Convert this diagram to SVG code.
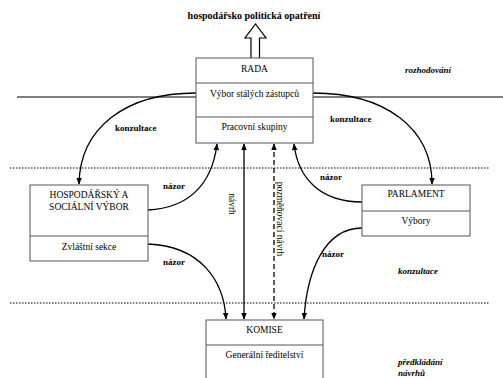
<svg xmlns="http://www.w3.org/2000/svg" width="503" height="378" viewBox="0 0 503 378">
<style>
text{font-family:"Liberation Serif","Times New Roman",serif;fill:#000}
.t{font-size:9.5px;text-anchor:middle}
.b{font-size:9px;font-weight:bold}
.i{font-size:9px;font-weight:bold;font-style:italic}
.box{fill:#fff;stroke:#555;stroke-width:1}
.div{stroke:#555;stroke-width:1}
.c{fill:none;stroke:#000;stroke-width:1.3}
.dot{stroke:#000;stroke-width:1;stroke-dasharray:1.5 1.5}
</style>
<defs>
<marker id="ah" viewBox="0 0 10 10" refX="9" refY="5" markerWidth="7" markerHeight="7" markerUnits="userSpaceOnUse" orient="auto-start-reverse">
<path d="M0,1 L10,5 L0,9 Z" fill="#000"/>
</marker>
</defs>
<rect width="503" height="378" fill="#fff"/>
<g id="layers">
<line x1="17" y1="97" x2="196" y2="97" stroke="#000" stroke-width="1.2"/>
<line x1="313" y1="97" x2="503" y2="97" stroke="#000" stroke-width="1.2"/>
<line class="dot" x1="10" y1="168" x2="489" y2="168"/>
<line class="dot" x1="10" y1="303" x2="490" y2="303"/>
<text class="i" x="405" y="73">rozhodování</text>
<text class="i" x="398" y="274">konzultace</text>
<text class="i" x="398" y="365">předkládání</text>
<text class="i" x="398" y="376">návrhů</text>
</g>
<g id="output">
<text x="254" y="19" style="font-size:10px;font-weight:bold;text-anchor:middle">hospodářsko politická opatření</text>
<path d="M251,58 L251,38 L245,38 L255.5,24 L266,38 L259.5,38 L259.5,58" fill="#fff" stroke="#000" stroke-width="1.2"/>
</g>
<g id="connectors">
<path class="c" d="M196,93 C125,93 80,128 79,184" marker-end="url(#ah)"/>
<path class="c" d="M313,93 C385,93 432,128 432,184" marker-end="url(#ah)"/>
<path class="c" d="M148,210 C188,208 212,185 217,144" marker-end="url(#ah)"/>
<path class="c" d="M362,202 C320,202 298,178 294,144" marker-end="url(#ah)"/>
<path class="c" d="M148,244 C200,246 224,280 226,319" marker-end="url(#ah)"/>
<path class="c" d="M362,228 C325,228 307,270 304,319" marker-end="url(#ah)"/>
<line class="c" x1="244" y1="144" x2="244" y2="319" marker-start="url(#ah)" marker-end="url(#ah)"/>
<line class="c" x1="274" y1="144" x2="274" y2="319" stroke-dasharray="5 3" marker-start="url(#ah)" marker-end="url(#ah)"/>
<text class="b" x="115" y="131">konzultace</text>
<text class="b" x="330" y="122">konzultace</text>
<text class="b" x="163" y="189">názor</text>
<text class="b" x="320" y="180">názor</text>
<text class="b" x="163" y="265">názor</text>
<text class="b" x="322" y="257">názor</text>
<text class="t" transform="translate(229,204) rotate(90)">návrh</text>
<text class="t" transform="translate(277,219) rotate(90)">pozměňovací návrh</text>
</g>
<g id="rada">
<rect class="box" x="196" y="58" width="117" height="85"/>
<line class="div" x1="196" y1="83" x2="313" y2="83"/>
<line class="div" x1="196" y1="117" x2="313" y2="117"/>
<text class="t" x="254.5" y="72">RADA</text>
<text class="t" x="254.5" y="97">Výbor stálých zástupců</text>
<text class="t" x="254.5" y="130">Pracovní skupiny</text>
</g>
<g id="hsv">
<rect class="box" x="30" y="185" width="118" height="76"/>
<line class="div" x1="30" y1="236" x2="148" y2="236"/>
<text class="t" x="89" y="198">HOSPODÁŘSKÝ A</text>
<text class="t" x="89" y="210">SOCIÁLNÍ VÝBOR</text>
<text class="t" x="89" y="250">Zvláštní sekce</text>
</g>
<g id="parlament">
<rect class="box" x="362" y="185" width="108" height="51"/>
<line class="div" x1="362" y1="211" x2="470" y2="211"/>
<text class="t" x="416" y="197">PARLAMENT</text>
<text class="t" x="416" y="224">Výbory</text>
</g>
<g id="komise">
<rect class="box" x="206" y="320" width="117" height="70"/>
<line class="div" x1="206" y1="345" x2="323" y2="345"/>
<text class="t" x="264.5" y="333">KOMISE</text>
<text class="t" x="264.5" y="358">Generální ředitelství</text>
</g>
</svg>
